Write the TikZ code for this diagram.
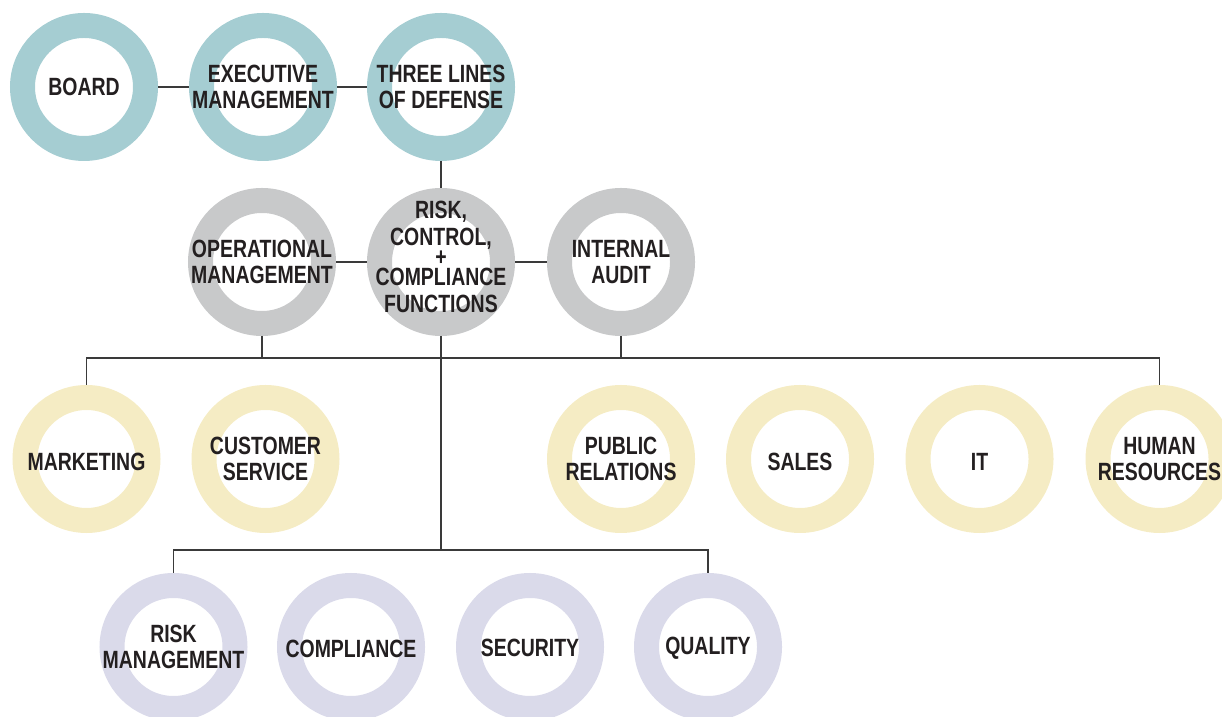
\documentclass[tikz,border=0pt]{standalone}
\usepackage{fontspec}
\setmainfont{Liberation Sans}[FakeStretch=0.78]
\usetikzlibrary{arrows.meta}

\definecolor{ringteal}{HTML}{A5CDD2}
\definecolor{ringgray}{HTML}{C8C9CA}
\definecolor{ringyellow}{HTML}{F5ECC4}
\definecolor{ringlilac}{HTML}{DADAEA}
\definecolor{inkdark}{HTML}{231F20}
\definecolor{linegray}{HTML}{3A3A3A}

\tikzset{
  ring/.style={circle, draw=#1, line width=2.5mm, minimum size=12.3mm,
    inner sep=0pt, outer sep=1.25mm},
  link/.style={draw=linegray, line width=0.45pt}
}

\begin{document}
\begin{tikzpicture}[every label/.style={align=center, text=inkdark,
    font=\bfseries\fontsize{7.1}{7.5}\selectfont}]
	\clip (0,0) rectangle (12.22,-7.17);

	% top row
	\node [ring=ringteal, label=center:BOARD] (board) at (0.84,-0.87) {};
	\node [ring=ringteal, label={center:EXECUTIVE\\MANAGEMENT}] (exec) at (2.63,-0.87) {};
	\node [ring=ringteal, label={center:THREE LINES\\OF DEFENSE}] (three) at (4.41,-0.87) {};

	% second row
	\node [ring=ringgray, label={center:OPERATIONAL\\MANAGEMENT}] (oper) at (2.62,-2.62) {};
	\node [ring=ringgray, label={[yshift=0.5mm]center:RISK,\\CONTROL,\\[-1.7pt]+\\[-1.7pt]COMPLIANCE\\FUNCTIONS}] (rcc) at (4.41,-2.62) {};
	\node [ring=ringgray, label={center:INTERNAL\\AUDIT}] (audit) at (6.21,-2.62) {};

	% third row
	\node [ring=ringyellow, label={[yshift=-0.3mm]center:MARKETING}] (mkt) at (0.865,-4.59) {};
	\node [ring=ringyellow, label={center:CUSTOMER\\SERVICE}] (cust) at (2.655,-4.59) {};
	\node [ring=ringyellow, label={center:PUBLIC\\RELATIONS}] (pr) at (6.21,-4.59) {};
	\node [ring=ringyellow, label={[yshift=-0.3mm]center:SALES}] (sales) at (8.0,-4.59) {};
	\node [ring=ringyellow, label={[yshift=-0.3mm]center:IT}] (it) at (9.795,-4.59) {};
	\node [ring=ringyellow, label={center:HUMAN\\RESOURCES}] (hr) at (11.595,-4.59) {};

	% bottom row
	\node [ring=ringlilac, label={center:RISK\\MANAGEMENT}] (riskm) at (1.735,-6.47) {};
	\node [ring=ringlilac, label={[yshift=-0.2mm]center:COMPLIANCE}] (compl) at (3.51,-6.47) {};
	\node [ring=ringlilac, label={[yshift=-0.1mm]center:SECURITY}] (secur) at (5.30,-6.47) {};
	\node [ring=ringlilac, label={[yshift=-0.1mm]center:QUALITY}] (quality) at (7.08,-6.47) {};

	\coordinate (busA) at (4.41,-3.58);
	\coordinate (busB) at (4.41,-5.50);

	\begin{scope}[link]
		\path (board) edge (exec);
		\path (exec) edge (three);
		\path (three) edge (rcc);
		\path (oper) edge (rcc);
		\path (rcc) edge (audit);
		\draw (oper.south) -- (oper.south |- busA);
		\draw (audit.south) -- (audit.south |- busA);
		\draw (mkt.north) -- (mkt.north |- busA) -- (hr.north |- busA) -- (hr.north);
		\draw (rcc.south) -- (busB);
		\draw (riskm.north) -- (riskm.north |- busB) -- (quality.north |- busB) -- (quality.north);
	\end{scope}
\end{tikzpicture}
\end{document}
